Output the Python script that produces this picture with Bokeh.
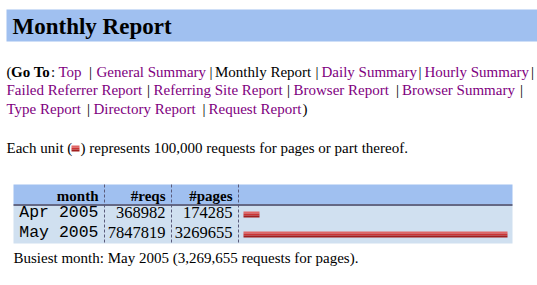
import math
from bokeh.plotting import figure
from bokeh.models import Range1d
from bokeh.core.properties import value
from bokeh.embed import file_html
from bokeh.resources import INLINE

# ---------------- data ----------------
title = "Monthly Report"
months = ["Apr 2005", "May 2005"]
reqs = [368982, 7847819]
pages = [174285, 3269655]
unit_requests = 100000
columns = ["month", "#reqs", "#pages"]
nav_line1 = ["Top", "General Summary", "Monthly Report", "Daily Summary", "Hourly Summary"]
nav_line2 = ["Failed Referrer Report", "Referring Site Report", "Browser Report", "Browser Summary"]
nav_line3 = ["Type Report", "Directory Report", "Request Report"]
current_page = "Monthly Report"

# ---------------- style ----------------
SERIF = value("Liberation Serif")
MONO = value("Liberation Mono")
LINK = "#800080"
BAND = "#A0C0F0"
ROW = "#D0E0F0"
W, H = 537, 285
BAR_X0 = 243
PX_PER_UNIT = 8
BASE_FIX = 0.3  # baseline correction for the SVG text placement

p = figure(width=W, height=H, x_range=Range1d(0, W), y_range=Range1d(H, 0),
           output_backend="svg", toolbar_location=None, min_border=0,
           x_axis_location=None, y_axis_location=None,
           outline_line_color=None, background_fill_color="white",
           border_fill_color="white")
p.grid.visible = False
p.extra_x_ranges = {"units": Range1d(-BAR_X0 / PX_PER_UNIT, (W - BAR_X0) / PX_PER_UNIT)}


def txt(x, y, s, size=15, color="black", style="normal", align="left", font=SERIF):
    p.text(x=[x], y=[y - BASE_FIX * size], text=[s], text_font=font,
           text_font_size="{}px".format(size),
           text_color=color, text_font_style=style, text_align=align,
           text_baseline="alphabetic")


# title band
p.quad(left=[6], right=[W], top=[9], bottom=[41], fill_color=BAND, line_color=None)
txt(12, 32.5, title, size=23, style="bold")

# navigation
txt(6, 75.5, "(")
txt(10.5, 75.5, "Go To", style="bold")
txt(50.5, 75.5, ":")
line1_x = [58, 96, 214.5, 321, 424]
line1_pipes = [90, 210.5, 316.5, 419.5, 532]
line2_x = [6, 153, 293, 401.5]
line2_pipes = [148, 288, 397, 521]
line3_x = [6, 93, 208]
line3_pipes = [88, 203.5]
for names, xs, pipes, yb in [(nav_line1, line1_x, line1_pipes, 75.5),
                             (nav_line2, line2_x, line2_pipes, 94),
                             (nav_line3, line3_x, line3_pipes, 112.5)]:
    for n, x in zip(names, xs):
        txt(x, yb, n, color="black" if n == current_page else LINK)
    for px in pipes:
        txt(px, yb, "|", align="center")
txt(307, 112.5, ")", align="right")

# unit legend line
bar_colors = ["#E06666", "#CC3333", "#A01E1E"]
txt(6, 151.5, "Each unit (")
icon_left = 71
for i, c in enumerate(bar_colors):
    p.quad(left=[icon_left], right=[icon_left + PX_PER_UNIT], top=[145 + 2 * i],
           bottom=[147 + 2 * i], fill_color=c, line_color=None)
txt(icon_left + PX_PER_UNIT + 1, 151.5,
    ") represents {:,} requests for pages or part thereof.".format(unit_requests))

# table
T_LEFT, T_RIGHT = 13, 512
p.quad(left=[T_LEFT], right=[T_RIGHT], top=[184], bottom=[204], fill_color=BAND, line_color=None)
p.quad(left=[T_LEFT], right=[T_RIGHT], top=[204], bottom=[243], fill_color=ROW, line_color=None)
p.segment(x0=[T_LEFT], x1=[T_RIGHT], y0=[204.5], y1=[204.5], line_color="#404060", line_width=1.5)
for xd in [104, 171, 238]:
    p.segment(x0=[xd], x1=[xd], y0=[184], y1=[243], line_color="#5A5A7A",
              line_width=1, line_dash="3 2")

col_right = [98, 165, 232]
for c, xr in zip(columns, col_right):
    txt(xr, 199.5, c, style="bold", align="right")

row_base = [216.5, 236.5]
row_bar_top = [211, 231]
units = [math.ceil(v / unit_requests) for v in pages]
for m, r, pg, yb, yt, u in zip(months, reqs, pages, row_base, row_bar_top, units):
    txt(col_right[0], yb, m, size=16.5, align="right", font=MONO)
    txt(col_right[1], yb, str(r), size=16.5, align="right")
    txt(col_right[2], yb, str(pg), size=16.5, align="right")
    for i, c in enumerate(bar_colors):
        p.quad(left=[0], right=[u], top=[yt + 2 * i], bottom=[yt + 2 + 2 * i],
               fill_color=c, line_color=None, x_range_name="units")

best = max(range(len(pages)), key=lambda i: pages[i])
txt(13, 261.5, "Busiest month: {} ({:,} requests for pages).".format(months[best], pages[best]))

open("out.html", "w").write(file_html(p, INLINE))
